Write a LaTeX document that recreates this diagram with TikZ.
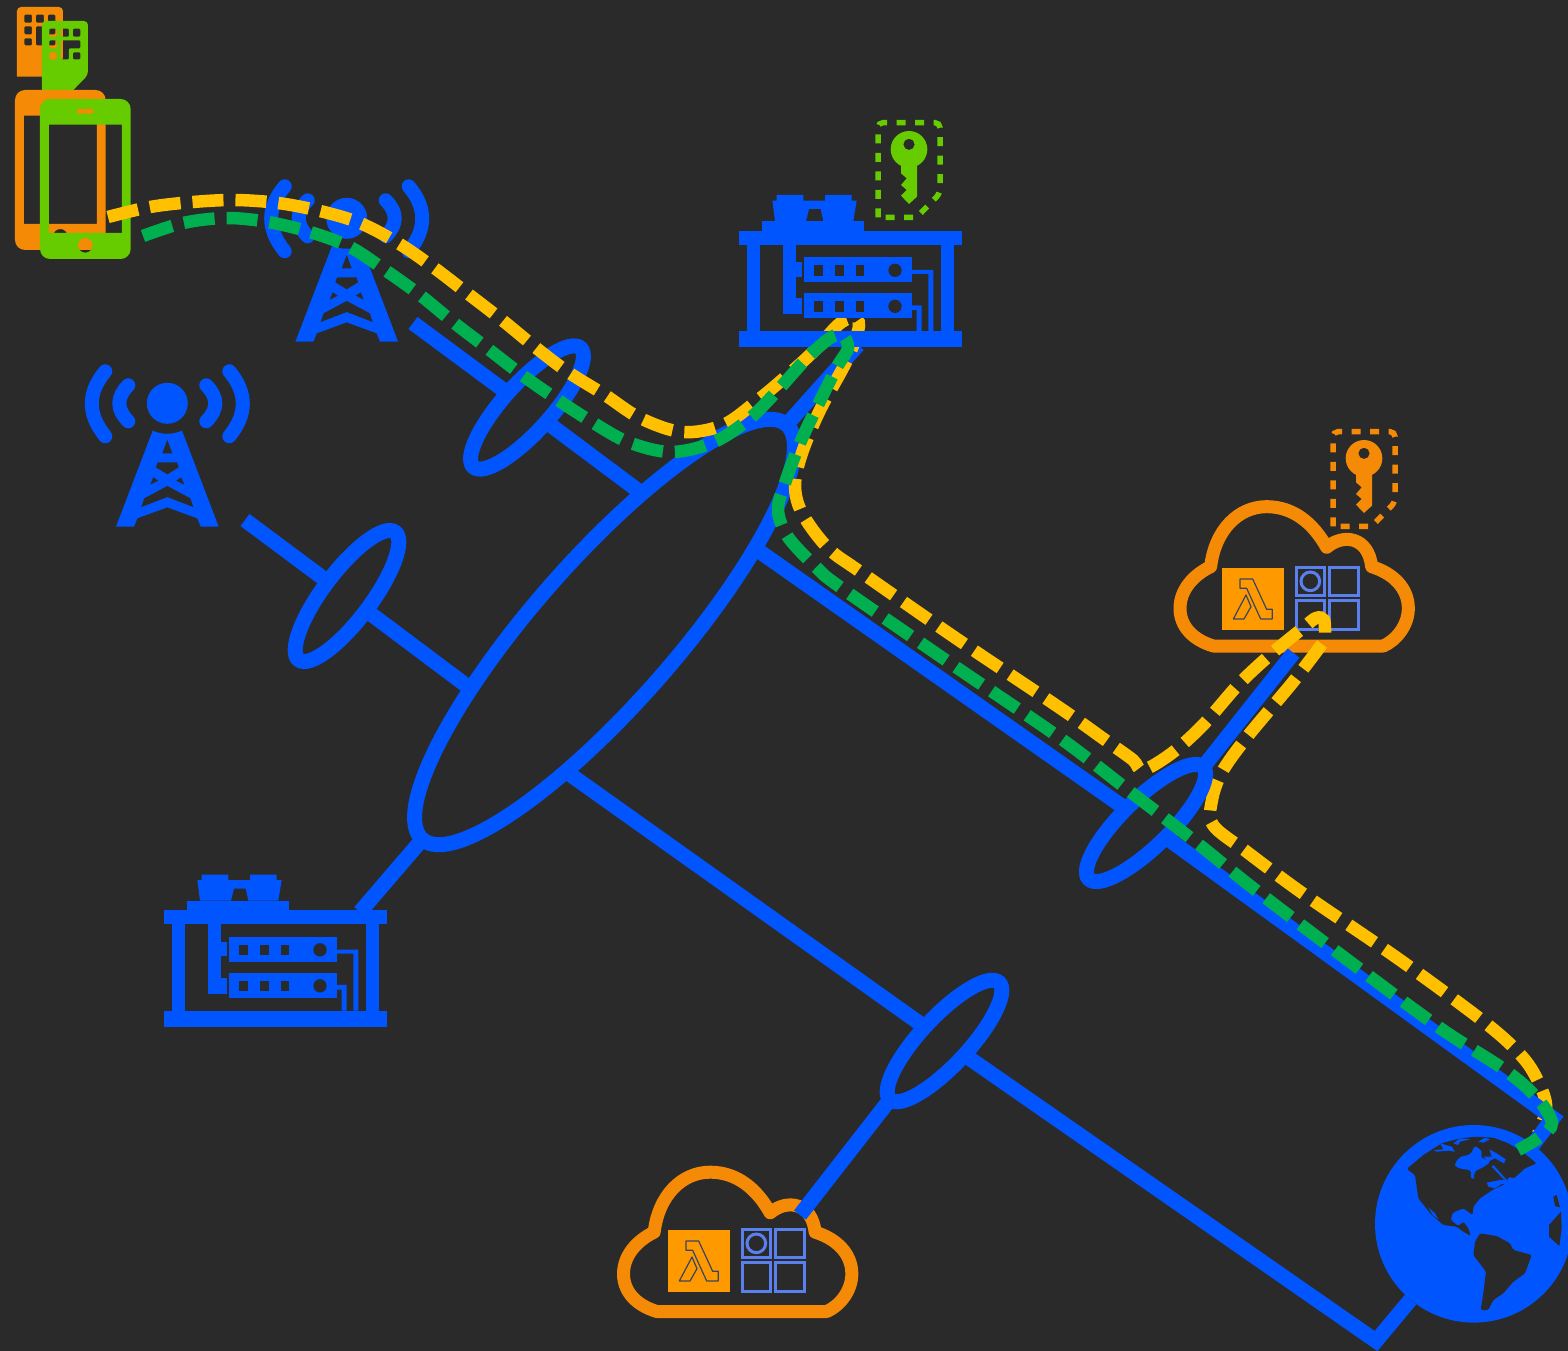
\documentclass[tikz,border=0pt]{standalone}
\usetikzlibrary{shapes.geometric,calc}
\definecolor{bgdark}{HTML}{2A2A2A}
\definecolor{netblue}{HTML}{0055FF}
\definecolor{iconorange}{HTML}{F58A07}
\definecolor{leafgreen}{HTML}{66CC00}
\definecolor{flowyellow}{HTML}{FFC000}
\definecolor{flowgreen}{HTML}{00B050}
\definecolor{lambdaorange}{HTML}{FF9900}
\definecolor{gridblue}{HTML}{5A7FEF}
\tikzset{
  x=1pt,y=-1pt,
  iconbox/.style={inner sep=0,outer sep=0,minimum width=#1},
  linkline/.style={draw=netblue,line width=15pt},
  ringnode/.style={ellipse,draw=netblue,line width=15pt,inner sep=0,outer sep=0,minimum width=160pt,minimum height=48pt},
  hubnode/.style={ellipse,draw=netblue,line width=15pt,inner sep=0,outer sep=0,minimum width=552pt,minimum height=143pt},
  flowY/.style={draw=flowyellow,line width=12.5pt,dash pattern=on 31pt off 12pt},
  flowG/.style={draw=flowgreen,line width=12.5pt,dash pattern=on 31pt off 12pt},
  towericon/.pic={
    \fill[netblue] (0,0) circle[radius=20.5];
    \draw[netblue,line width=14pt,line cap=round] (-39,-18) .. controls (-51,-6) and (-51,6) .. (-39,18);
    \draw[netblue,line width=14pt,line cap=round] (39,-18) .. controls (51,-6) and (51,6) .. (39,18);
    \draw[netblue,line width=14pt,line cap=round] (-62,-32) .. controls (-80,-10.7) and (-80,11) .. (-62,33);
    \draw[netblue,line width=14pt,line cap=round] (62,-32) .. controls (80,-10.7) and (80,11) .. (62,33);
    \fill[netblue] (-14.6,27.4) .. controls (-5,31.5) and (5,31.5) .. (14.7,27.4) -- (51.4,123.4) -- (33.4,123.4) -- (30,115) -- (0,104) -- (-30,115) -- (-33.3,123.4) -- (-51.3,123.4) -- cycle;
    \fill[bgdark] (0,36.7) -- (-5,50) -- (5,50) -- cycle;
    \fill[bgdark] (-9.6,59) -- (9.7,59) -- (11.4,64) -- (0,71) -- (-11.4,64) -- cycle;
    \fill[bgdark] (-14,74) -- (-9,77.4) -- (-17,81.4) -- cycle;
    \fill[bgdark] (14,74) -- (9,77.4) -- (17,81.4) -- cycle;
    \fill[bgdark] (0,82.7) -- (23,95) -- (26,103.7) -- (0,93.7) -- (-26,103.7) -- (-23,95) -- cycle;
  },
  servericon/.pic={
    \begin{scope}[scale=0.33333]
    \fill[netblue] (27,362) rectangle (696,404);
    \fill[netblue] (27,663) rectangle (696,711);
    \fill[netblue] (51,404) rectangle (90,663);
    \fill[netblue] (634,404) rectangle (672,663);
    \fill[netblue] (95,333) rectangle (402,362);
    \fill[netblue] (127,272) -- (135,333) -- (228,333) -- (237,297) -- (272,297) -- (280,333) -- (370,333) -- (380,272) -- (365,272) -- (365,255) -- (285,255) -- (285,272) -- (220,272) -- (220,255) -- (140,255) -- (140,272) -- cycle;
    \fill[netblue] (160,404) rectangle (197,612);
    \fill[netblue] (197,456) rectangle (216,500);
    \fill[netblue] (197,565) rectangle (216,612);
    \foreach \yy in {0,108}{
      \begin{scope}[yshift=-\yy pt]
      \fill[netblue] (221,441) rectangle (546,517);
      \fill[bgdark] (253,466) rectangle (279,497);
      \fill[bgdark] (316,466) rectangle (341,497);
      \fill[bgdark] (378,466) rectangle (403,497);
      \fill[bgdark] (495,481) circle[radius=20];
      \end{scope}
    }
    \fill[netblue] (546,480) -- (610,480) -- (610,663) -- (595,663) -- (595,492) -- (546,492) -- cycle;
    \fill[netblue] (546,586) -- (575,586) -- (575,663) -- (560,663) -- (560,600) -- (546,600) -- cycle;
    \end{scope}
  },
  keyicon/.pic={
    \begin{scope}[scale=0.33333]
    \draw[#1,line width=5.5pt,dash pattern=on 9pt off 9.5pt,rounded corners=5pt] (444,322) -- (444,38) -- (630,38) -- (630,250) [sharp corners] -- (560,322) -- cycle;
    \fill[#1,even odd rule] (537,118) circle[radius=55] (537,103) circle[radius=17];
    \fill[#1] (513,165) -- (513,190) -- (530,205) -- (513,225) -- (530,240) -- (513,257) -- (537,282) -- (561,260) -- (561,165) -- cycle;
    \end{scope}
  },
  cloudshape/.pic={
    \begin{scope}[scale=0.33333]
    \draw[iconorange,line width=13pt,line join=round] (130,678) .. controls (70,660) and (30,620) .. (30,565) .. controls (30,510) and (70,465) .. (122,440) .. controls (135,330) and (205,260) .. (290,260) .. controls (370,260) and (430,310) .. (470,382) .. controls (520,340) and (595,350) .. (605,440) .. controls (670,460) and (715,505) .. (715,565) .. controls (715,615) and (680,660) .. (640,678) -- cycle;
    \end{scope}
  },
  cloudservices/.pic={
    \begin{scope}[scale=0.33333]
    \fill[lambdaorange] (156,444) rectangle (342,630);
    \draw[bgdark!70!gridblue,line width=1.2pt,line join=round] (210,477) -- (248,477) -- (290,568) -- (307,568) -- (307,597) -- (272,597) -- (230,505) -- (210,505) -- cycle;
    \draw[bgdark!70!gridblue,line width=1.2pt,line join=round] (228,525) -- (243,560) -- (222,597) -- (190,597) -- cycle;
    \draw[gridblue,line width=3pt] (378,441) rectangle (464,527);
    \draw[gridblue,line width=3pt] (478,441) rectangle (564,527);
    \draw[gridblue,line width=3pt] (378,541) rectangle (464,627);
    \draw[gridblue,line width=3pt] (478,541) rectangle (564,627);
    \draw[gridblue,line width=3pt] (421,484) circle[radius=28];
    \end{scope}
  },
  simicon/.pic={
    \begin{scope}[scale=0.33333]
    \fill[#1,even odd rule,rounded corners=4pt] (126,272) -- (126,63) -- (264,63) -- (264,225) [sharp corners] -- (218,272) -- cycle
      [rounded corners=1pt]
      (148,86) rectangle (171,110) (183,86) rectangle (207,110) (219,86) rectangle (241,110)
      (148,121) rectangle (171,145)
      (183,121) -- (241,121) -- (241,145) -- (207,145) -- (207,178) -- (183,178) -- cycle
      (219,157) rectangle (241,178)
      (148,157) rectangle (171,178);
    \end{scope}
  },
  phoneicon/.pic={
    \begin{scope}[scale=0.33333]
    \fill[#1,even odd rule,rounded corners=10pt] (120,297) rectangle (392,777)
      [sharp corners] (147,374) rectangle (366,699)
      (232,327) rectangle (280,341)
      (256,736) circle[radius=22];
    \end{scope}
  }
}
\begin{document}
\begin{tikzpicture}
\useasboundingbox (0,0) rectangle (1568,1351);
\fill[bgdark] (0,0) rectangle (1568,1351);

% icon boxes
\node[iconbox=223pt,minimum height=152pt] (serverA) at (850.5,271) {};
\node[iconbox=224pt,minimum height=153pt] (serverB) at (276,950.5) {};
\node[iconbox=239pt,minimum height=150pt] (cloudA) at (1294.5,577) {};
\node[iconbox=239pt,minimum height=152pt] (cloudB) at (738,1240) {};
\node[iconbox=165pt,minimum height=162pt] (towerA) at (167.3,446) {};
\node[iconbox=165pt,minimum height=162pt] (towerB) at (347,261) {};

% handsets and SIM cards
\pic at (-25,-14) {simicon=iconorange};
\pic at (0,0) {simicon=leafgreen};
\pic at (-25,-9) {phoneicon=iconorange};
\pic at (0,0) {phoneicon=leafgreen};

% towers, keys, clouds
\pic at (167.3,403.3) {towericon};
\pic at (346.7,218.3) {towericon};
\pic at (730,110) {keyicon=leafgreen};
\pic at (1185,419) {keyicon=iconorange};
\pic at (1170,420) {cloudshape};
\pic at (1170,420) {cloudservices};
\pic at (613.5,1085.5) {cloudshape};
\pic at (616,1082) {cloudservices};

% globe
\node[circle,fill=netblue,inner sep=0,outer sep=0,minimum size=197.6pt] (globe) at (1473.8,1223.8) {};
\begin{scope}[shift={(1360,1100)},scale=0.33333]
  \fill[bgdark,rounded corners=1.5pt] (140,207) -- (190,165) -- (245,130) -- (300,115) -- (350,110) -- (400,113) -- (445,130) -- (490,158) -- (530,190) -- (495,205) -- (462,235) -- (445,230) -- (440,250) -- (400,268) -- (360,295) -- (340,320) -- (338,345) -- (310,325) -- (278,338) -- (272,360) -- (295,378) -- (310,365) -- (325,385) -- (332,408) -- (310,395) -- (290,380) -- (250,375) -- (215,345) -- (175,295) -- (165,225) -- cycle;
  \fill[netblue] plot[smooth cycle,tension=0.6] coordinates {(345,140) (365,155) (365,172) (388,185) (372,200) (345,215) (342,235) (333,232) (330,212) (300,205) (285,195) (300,172) (330,162)};
  \fill[netblue] (222,150) -- (250,148) -- (240,130) -- (275,140) -- (285,155) -- (265,152) -- (230,155) -- cycle;
  \fill[netblue] (280,130) -- (300,115) -- (330,118) -- (300,125) -- (295,135) -- cycle;
  \fill[netblue] (355,125) -- (375,113) -- (390,118) -- (370,128) -- cycle;
  \fill[netblue] (388,148) -- (410,160) -- (437,178) -- (432,190) -- (405,175) -- (385,185) -- (370,170) -- (395,170) -- cycle;
  \fill[netblue] (400,195) -- (445,245) -- (428,235) -- (395,200) -- cycle;
  \fill[netblue] (380,248) -- (420,240) -- (440,238) -- (445,255) -- (425,252) -- (405,265) -- (385,260) -- cycle;
  \fill[netblue] (205,322) -- (225,340) -- (235,358) -- (218,345) -- cycle;
  \fill[bgdark,rounded corners=1.5pt] (360,400) -- (410,408) -- (450,430) -- (460,450) -- (515,465) -- (495,520) -- (460,545) -- (430,580) -- (400,600) -- (385,630) -- (362,630) -- (370,580) -- (378,515) -- (340,465) -- (345,425) -- cycle;
  \fill[bgdark] (580,290) -- (590,285) -- (600,322) -- (585,318) -- cycle;
  \fill[bgdark] (603,335) -- (567,375) -- (567,410) -- (598,438) -- (605,385) -- cycle;
\end{scope}

% yellow flow that passes beneath the network
\coordinate (yStartB) at (1322,644);
\coordinate (yEndB) at (1538,1134);
\draw[flowY] plot[smooth,tension=0.55] coordinates {(yStartB) (1293,682) (1247,737) (1222,772) (1212,800) (1213,825) (1247,852) (1305,895) (1400,960) (1488,1025) (1525,1060) (1542,1090) (1546,1110) (yEndB)};

% network
\node[hubnode,rotate=48.7] (hub) at (604.5,632) {};
\node[ringnode,rotate=48] (ringA) at (527,407.5) {};
\node[ringnode,rotate=53] (ringB) at (347,596) {};
\node[ringnode,rotate=44.4] (ringC) at (1146,823) {};
\node[ringnode,rotate=47] (ringD) at (944.5,1041) {};
\coordinate (towerBlink) at (413,323);
\coordinate (towerAlink) at (245,520);
\coordinate (hubA) at (640,492);
\coordinate (hubB) at (467,686);
\coordinate (hubC) at (756,549);
\coordinate (hubD) at (568,773);
\coordinate (bendC) at (1553,1118);
\coordinate (bendD) at (1376,1341);
\draw[linkline] (towerBlink) -- (ringA);
\draw[linkline] (ringA) -- (hubA);
\draw[linkline] (towerAlink) -- (ringB);
\draw[linkline] (ringB) -- (hubB);
\draw[linkline] (hubC) -- (ringC);
\draw[linkline,miter limit=4] (ringC) -- (bendC) -- (globe);
\draw[linkline] (hubD) -- (ringD);
\draw[linkline] (ringD) -- (bendD) -- (globe);
\draw[linkline] (hub.east) -- ($(serverA.south)+(7.5,-2)$);
\draw[linkline] (hub.west) -- ($(serverB.north east)+(-28,38)$);
\draw[linkline] (ringC.east) -- ($(cloudA.south)+(-1,1)$);
\draw[linkline] (ringD.west) -- ($(cloudB.north)+(62,51)$);

% yellow flow over the network
\coordinate (yStartA) at (108,217);
\coordinate (yEndA) at (1325,636);
\draw[flowY] plot[smooth,tension=0.55] coordinates {(yStartA) (150,207) (193,202) (235,200) (278,203) (320,211) (360,223) (398,243) (433,267) (467,293) (502,320) (535,347) (568,372) (605,395) (640,418) (682,432) (723,425) (758,400) (790,373) (815,350) (838,325) (852,318) (859,326) (847,360) (820,410) (802,453) (795,485) (802,513) (828,548) (862,573) (960,641) (1060,708) (1108,742) (1133,760) (1143,770) (1172,753) (1203,725) (1238,685) (1270,655) (1303,628) (1316,618) (1324,620) (yEndA)};

\pic at (730,110) {servericon};
\pic at (155,789.5) {servericon};

% green flow
\coordinate (gStart) at (143,236);
\coordinate (gEnd) at (1518,1150);
\draw[flowG] plot[smooth,tension=0.55] coordinates {(gStart) (183,223) (226,218) (268,222) (310,232) (350,247) (385,270) (420,295) (453,322) (487,348) (522,375) (555,398) (592,422) (628,442) (670,452) (712,443) (748,420) (778,390) (807,358) (830,338) (842,335) (848,348) (837,367) (818,405) (800,443) (785,483) (778,510) (788,537) (817,568) (840,587) (950,663) (1060,738) (1128,790) (1197,843) (1253,888) (1345,958) (1440,1028) (1505,1070) (1537,1098) (1552,1123) (1540,1137) (gEnd)};
\end{tikzpicture}
\end{document}
